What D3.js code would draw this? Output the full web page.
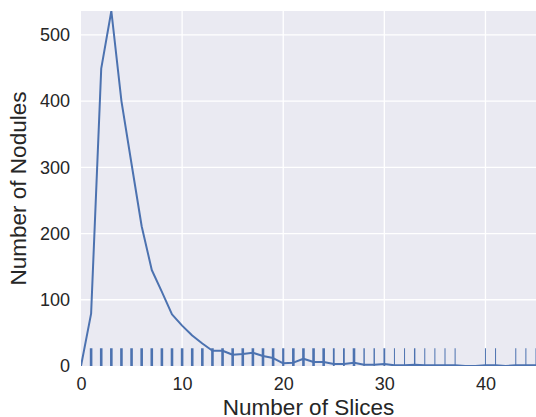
<!DOCTYPE html>
<html>
<head>
<meta charset="utf-8">
<script src="https://cdn.jsdelivr.net/npm/d3@7"></script>
<style>
  body { margin: 0; background: #fff; }
  text { font-family: "Liberation Sans", Arial, sans-serif; fill: #262626; }
</style>
</head>
<body>
<div class="chart"></div>
<script>
// number of slices per nodule -> how many nodules have it
const slices = d3.range(0, 46);
const nodule_counts = [
   0, 79, 449, 536, 400, 305, 211, 145, 112, 78,
  61, 46, 34, 23, 23, 17, 18, 20, 15, 12,
   4,  5, 11,  6,  6,  3,  3,  5,  2,  2,
   3,  1,  1,  2,  1,  1,  1,  1,  0,  0,
   1,  1,  0,  1,  1,  1
];
const x_ticks = [0, 10, 20, 30, 40];
const y_ticks = [0, 100, 200, 300, 400, 500];

const line_data = slices.map((s, i) => ({slices: s, count: nodule_counts[i]}));
// rug: one tick for every slice count that occurs
const rug_data = line_data.filter(d => d.count > 0);

function build_chart_container(margin, width, height) {
   return d3.select('.chart')
      .append('svg')
      .attr('width', width + margin.left + margin.right)
      .attr('height', height + margin.top + margin.bottom)
      .append('g')
      .attr('transform', `translate(${margin.left}, ${margin.top})`);
}

function draw_background(container, width, height, x_scale, y_scale) {
   container.append('rect')
      .attr('width', width)
      .attr('height', height)
      .style('fill', '#eaeaf2');

   container.append('g')
      .selectAll('line.xgrid')
      .data(x_ticks.slice(1))
      .enter()
      .append('line')
      .attr('x1', d => x_scale(d)).attr('x2', d => x_scale(d))
      .attr('y1', 0).attr('y2', height)
      .style('stroke', '#fff')
      .style('stroke-width', 1.3);

   container.append('g')
      .selectAll('line.ygrid')
      .data(y_ticks.slice(1))
      .enter()
      .append('line')
      .attr('x1', 0).attr('x2', width)
      .attr('y1', d => y_scale(d)).attr('y2', d => y_scale(d))
      .style('stroke', '#fff')
      .style('stroke-width', 1.3);
}

function draw_axes(container, width, height, x_scale, y_scale) {
   const x_axis = d3.axisBottom(x_scale)
      .tickValues(x_ticks)
      .tickSize(0)
      .tickPadding(11);
   const gx = container.append('g')
      .attr('transform', `translate(0, ${height})`)
      .call(x_axis);

   const y_axis = d3.axisLeft(y_scale)
      .tickValues(y_ticks)
      .tickSize(0)
      .tickPadding(11);
   const gy = container.append('g').call(y_axis);

   [gx, gy].forEach(g => {
      g.select('.domain').remove();
      g.selectAll('text')
         .style('font-size', '18px')
         .style('font-family', '"Liberation Sans", Arial, sans-serif')
         .style('fill', '#262626');
   });

   container.append('text')
      .attr('x', width / 2)
      .attr('y', height + 49)
      .attr('text-anchor', 'middle')
      .style('font-size', '22.5px')
      .text('Number of Slices');

   container.append('text')
      .attr('transform', `translate(-55.5, ${height / 2}) rotate(-90)`)
      .attr('text-anchor', 'middle')
      .style('font-size', '22.5px')
      .text('Number of Nodules');
}

function draw_rug(container, height, x_scale) {
   const rug_height = height * 0.05;
   const width_scale = d3.scaleLinear().domain([1, 5]).range([1, 2.6]).clamp(true);
   container.append('g')
      .attr('clip-path', 'url(#plot-clip)')
      .selectAll('line.rug')
      .data(rug_data)
      .enter()
      .append('line')
      .attr('x1', d => x_scale(d.slices)).attr('x2', d => x_scale(d.slices))
      .attr('y1', height).attr('y2', height - rug_height)
      .style('stroke', '#4c72b0')
      .style('stroke-width', d => width_scale(d.count));
}

function draw_line(container, x_scale, y_scale) {
   const gen = d3.line()
      .x(d => x_scale(d.slices))
      .y(d => y_scale(d.count));
   container.append('path')
      .attr('clip-path', 'url(#plot-clip)')
      .attr('d', gen(line_data))
      .style('fill', 'none')
      .style('stroke', '#4c72b0')
      .style('stroke-width', 2)
      .style('stroke-linejoin', 'round');
}

function main() {
   const margin = {top: 11, bottom: 51, left: 81, right: 0};
   const width = 536 - margin.left - margin.right;
   const height = 417 - margin.top - margin.bottom;

   const x_scale = d3.scaleLinear().domain([0, 45]).range([0, width]);
   const y_scale = d3.scaleLinear().domain([0, d3.max(nodule_counts)]).range([height, 0]);

   const container = build_chart_container(margin, width, height);
   container.append('clipPath').attr('id', 'plot-clip')
      .append('rect').attr('width', width).attr('height', height);

   draw_background(container, width, height, x_scale, y_scale);
   draw_rug(container, height, x_scale);
   draw_line(container, x_scale, y_scale);
   draw_axes(container, width, height, x_scale, y_scale);
}

main();
</script>
</body>
</html>
